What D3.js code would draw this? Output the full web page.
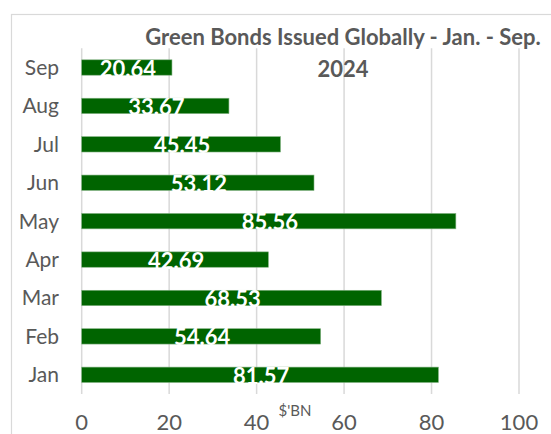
<!DOCTYPE html>
<html>
<head>
<meta charset="utf-8">
<script src="https://cdn.jsdelivr.net/npm/d3@7"></script>
<style>
  body { margin: 0; background: #fff; }
  text { font-family: Lato, "Open Sans", sans-serif; }
</style>
</head>
<body>
<script>
var months = ["Jan", "Feb", "Mar", "Apr", "May", "Jun", "Jul", "Aug", "Sep"];
var values = [81.57, 54.64, 68.53, 42.69, 85.56, 53.12, 45.45, 33.67, 20.64];
var tickValues = [0, 20, 40, 60, 80, 100];
var titleLines = ["Green Bonds Issued Globally - Jan. - Sep.", "2024"];
var axisTitle = "$'BN";

var width = 551, height = 434;
var plot = {left: 81.7, right: 519, top: 48.3, bottom: 394};

var svg = d3.select("body").append("svg")
    .attr("width", width)
    .attr("height", height);

// chart area border
svg.append("rect")
    .attr("x", 11.5).attr("y", 14.5)
    .attr("width", 600).attr("height", 500)
    .attr("fill", "#fff")
    .attr("stroke", "#d9d9d9")
    .attr("stroke-width", 1.2);

var x = d3.scaleLinear().domain([0, 100]).range([plot.left, plot.right]);

var y = d3.scaleBand()
    .domain(months.slice().reverse())
    .range([plot.top, plot.bottom])
    .paddingInner(0.6)
    .paddingOuter(0.3);

// gridlines
svg.append("g")
  .selectAll("line")
  .data(tickValues)
  .enter().append("line")
    .attr("x1", function(d) { return x(d); })
    .attr("x2", function(d) { return x(d); })
    .attr("y1", plot.top)
    .attr("y2", plot.bottom)
    .attr("stroke", "#d9d9d9")
    .attr("stroke-width", 1.5);

// x tick labels
svg.append("g")
  .selectAll("text")
  .data(tickValues)
  .enter().append("text")
    .attr("x", function(d) { return x(d); })
    .attr("y", 430)
    .attr("text-anchor", "middle")
    .attr("font-size", "22px")
    .attr("fill", "#595959")
    .text(function(d) { return d; });

svg.append("text")
    .attr("x", 295)
    .attr("y", 416)
    .attr("text-anchor", "middle")
    .attr("font-size", "15px")
    .attr("fill", "#595959")
    .text(axisTitle);

var rows = months.map(function(m, i) { return {month: m, value: values[i]}; });

// bars
svg.append("g")
  .selectAll("rect")
  .data(rows)
  .enter().append("rect")
    .attr("x", x(0))
    .attr("y", function(d) { return y(d.month); })
    .attr("width", function(d) { return x(d.value) - x(0); })
    .attr("height", y.bandwidth())
    .attr("fill", "#006400")
    .attr("stroke", "#7fb07f")
    .attr("stroke-width", 0.6);

// category labels
svg.append("g")
  .selectAll("text")
  .data(rows)
  .enter().append("text")
    .attr("x", 59)
    .attr("y", function(d) { return y(d.month) + y.bandwidth() / 2 + 7.5; })
    .attr("text-anchor", "end")
    .attr("font-size", "21px")
    .attr("fill", "#595959")
    .text(function(d) { return d.month; });

// value labels
svg.append("g")
  .selectAll("text")
  .data(rows)
  .enter().append("text")
    .attr("x", function(d) { return (x(0) + x(d.value)) / 2 + 1; })
    .attr("y", function(d) { return y(d.month) + y.bandwidth() / 2 + 9; })
    .attr("text-anchor", "middle")
    .attr("font-size", "22px")
    .attr("font-weight", "bold")
    .attr("fill", "#fff")
    .text(function(d) { return d.value.toFixed(2); });

// title
svg.append("g")
  .selectAll("text")
  .data(titleLines)
  .enter().append("text")
    .attr("x", 343)
    .attr("y", function(d, i) { return 45 + i * 31.5; })
    .attr("text-anchor", "middle")
    .attr("font-size", "22px")
    .attr("font-weight", "bold")
    .attr("fill", "#595959")
    .text(function(d) { return d; });
</script>
</body>
</html>
